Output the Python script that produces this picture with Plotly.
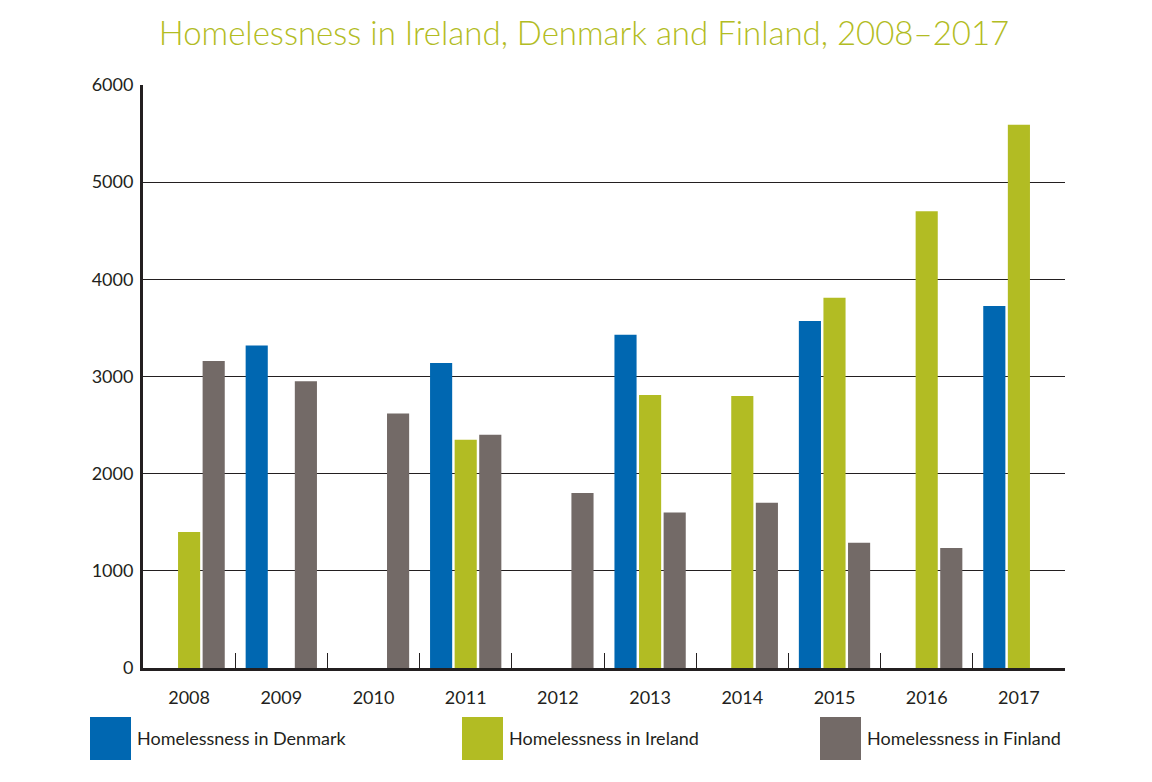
import plotly.graph_objects as go

years = ["2008", "2009", "2010", "2011", "2012", "2013", "2014", "2015", "2016", "2017"]
denmark = [None, 3320, None, 3140, None, 3430, None, 3570, None, 3725]
ireland = [1400, None, None, 2350, None, 2810, 2800, 3810, 4700, 5590]
finland = [3160, 2950, 2620, 2400, 1800, 1600, 1700, 1290, 1235, None]

series_names = ["Homelessness in Denmark", "Homelessness in Ireland", "Homelessness in Finland"]
colors = ["#0067b1", "#b2bc23", "#736a67"]
y_ticks = [0, 1000, 2000, 3000, 4000, 5000, 6000]

FONT = "Lato, Open Sans, sans-serif"
TXT = "#231f20"

fig = go.Figure()
for name, vals, col in zip(series_names, [denmark, ireland, finland], colors):
    fig.add_trace(go.Bar(x=years, y=vals, name=name, marker=dict(color=col, line=dict(width=0)),
                         showlegend=False))

fig.update_layout(
    width=1152, height=782,
    margin=dict(l=135, r=95, t=77, b=122),
    paper_bgcolor="white", plot_bgcolor="white",
    barmode="group", bargap=0.2, bargroupgap=0.1,
    font=dict(family=FONT, color=TXT, size=18),
    title=dict(text="Homelessness in Ireland, Denmark and Finland, 2008\u20132017",
               x=0.5, xanchor="center", y=0.968, yanchor="middle",
               font=dict(family=FONT, size=33, color="#b2bc23", weight=300)),
    xaxis=dict(type="category", showgrid=False, showline=True, linecolor=TXT, linewidth=3,
               ticks="inside", tickson="boundaries", ticklen=15, tickcolor=TXT, tickwidth=1,
               ticklabelstandoff=11, tickfont=dict(size=18, color=TXT)),
    yaxis=dict(range=[0, 6000], tickvals=y_ticks, showgrid=True, gridcolor=TXT, gridwidth=1,
               showline=True, linecolor=TXT, linewidth=3, zeroline=False,
               ticks="", ticklabelstandoff=3, tickfont=dict(size=18, color=TXT)),
)

# Legend drawn as large swatches with labels (plot area spans 922 x 583 px)
legend_x = [90, 462, 820]
shapes = []
annotations = []
for lx, name, col in zip(legend_x, series_names, colors):
    shapes.append(dict(type="rect", xref="paper", yref="paper",
                       x0=(lx - 143) / 922, x1=(lx + 41 - 143) / 922,
                       y0=(668 - 760) / 583, y1=(668 - 717) / 583,
                       fillcolor=col, line=dict(width=0)))
    annotations.append(dict(xref="paper", yref="paper", x=(lx + 45 - 143) / 922,
                            y=(668 - 738) / 583, xanchor="left", yanchor="middle",
                            text=name, showarrow=False,
                            font=dict(family=FONT, size=18, color=TXT)))
fig.update_layout(shapes=shapes, annotations=annotations)

fig.write_html("out.html")
